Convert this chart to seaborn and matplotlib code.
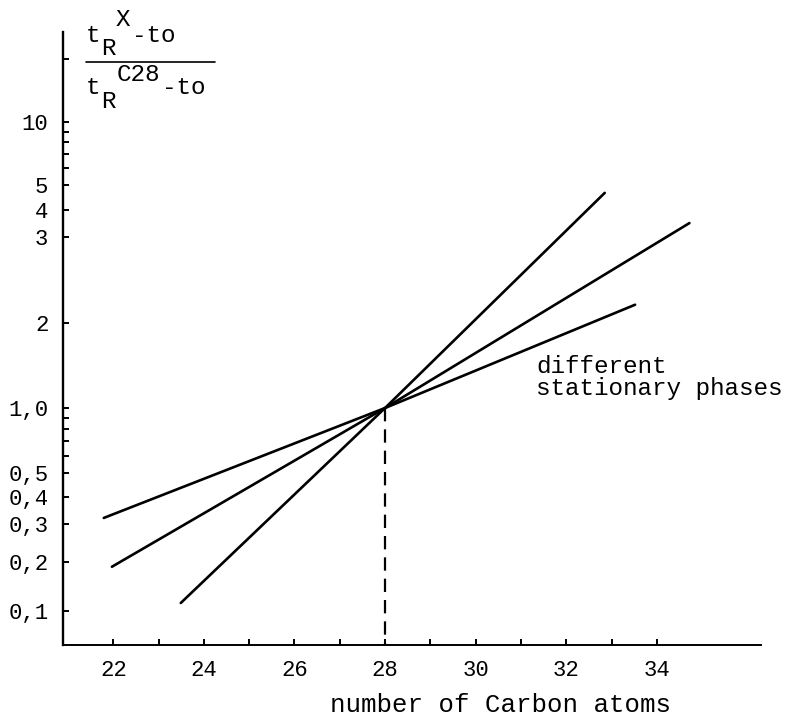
import numpy as np
import pandas as pd
import matplotlib
matplotlib.use("Agg")
import matplotlib.pyplot as plt
from matplotlib.lines import Line2D
from matplotlib.ticker import FixedLocator, FixedFormatter, NullFormatter
import seaborn as sns

# --- data: relative retention (t_R^X - t0)/(t_R^C28 - t0) vs. carbon number ---
phases = ["phase A", "phase B", "phase C"]
carbon_start = [23.49, 21.97, 21.79]
carbon_ref = [28.0, 28.0, 28.0]
carbon_end = [32.85, 34.72, 33.52]
ratio_start = [0.112, 0.187, 0.32]
ratio_ref = [1.0, 1.0, 1.0]
ratio_end = [4.66, 3.48, 2.18]

x_ticks = [22, 24, 26, 28, 30, 32, 34]
x_minor = [23, 25, 27, 29, 31, 33]
y_ticks = [0.1, 0.2, 0.3, 0.4, 0.5, 1.0, 2, 3, 4, 5, 10]
y_labels = ["0,1", "0,2", "0,3", "0,4", "0,5", "1,0", "2", "3", "4", "5", "10"]
y_minor = [0.6, 0.7, 0.8, 0.9, 6, 7, 8, 9, 20]

# hand-ruled ordinate: height of each graduation on the drawn axis (pixels from top)
gauge_rows = [611, 562, 524, 497, 473, 408, 323, 237, 210, 185, 122]

W, H = 799, 716
lg = np.log10(np.array(y_ticks, float))
hg = -np.array(gauge_rows, float)


def ruled_forward(v):
    v = np.asarray(v, float)
    with np.errstate(divide="ignore", invalid="ignore"):
        l = np.log10(np.where(v > 0, v, np.nan))
    out = np.interp(l, lg, hg)
    lo_slope = (hg[1] - hg[0]) / (lg[1] - lg[0])
    hi_slope = (hg[-1] - hg[-2]) / (lg[-1] - lg[-2])
    out = np.where(l < lg[0], hg[0] + (l - lg[0]) * lo_slope, out)
    out = np.where(l > lg[-1], hg[-1] + (l - lg[-1]) * hi_slope, out)
    return out


def ruled_inverse(p):
    p = np.asarray(p, float)
    l = np.interp(p, hg, lg)
    lo_slope = (lg[1] - lg[0]) / (hg[1] - hg[0])
    hi_slope = (lg[-1] - lg[-2]) / (hg[-1] - hg[-2])
    l = np.where(p < hg[0], lg[0] + (p - hg[0]) * lo_slope, l)
    l = np.where(p > hg[-1], lg[-1] + (p - hg[-1]) * hi_slope, l)
    return 10.0 ** l


rows = []
for i, ph in enumerate(phases):
    for c, r in ((carbon_start[i], ratio_start[i]),
                 (carbon_ref[i], ratio_ref[i]),
                 (carbon_end[i], ratio_end[i])):
        rows.append({"phase": ph, "carbon": c, "ratio": r})
df = pd.DataFrame(rows)

sns.set_theme(style="white")
plt.rcParams["font.family"] = ["Liberation Mono", "DejaVu Sans Mono"]

fig = plt.figure(figsize=(W / 100, H / 100), dpi=100)
ax_left, ax_right, ax_bottom, ax_top = 63, 761, 645, 32
ax = fig.add_axes([ax_left / W, 1 - ax_bottom / H,
                   (ax_right - ax_left) / W, (ax_bottom - ax_top) / H])
ax.set_yscale("function", functions=(ruled_forward, ruled_inverse))

sns.lineplot(data=df, x="carbon", y="ratio", hue="phase", units="phase",
             estimator=None, sort=True, palette=["black"] * 3,
             linewidth=1.9, legend=False, ax=ax)

ax.set_xlim(20.89, 36.30)
ax.set_ylim(float(ruled_inverse(-ax_bottom)), float(ruled_inverse(-ax_top)))

# reference carbon number C28
ax.plot([28, 28], [1.0, ax.get_ylim()[0]], color="black", lw=1.6,
        linestyle=(0, (6.0, 3.6)))

for side in ("top", "right"):
    ax.spines[side].set_visible(False)
ax.spines["left"].set_linewidth(1.7)
ax.spines["bottom"].set_linewidth(1.4)
for side in ("left", "bottom"):
    ax.spines[side].set_color("black")

ax.xaxis.set_major_locator(FixedLocator(x_ticks))
ax.xaxis.set_minor_locator(FixedLocator(x_minor))
ax.yaxis.set_major_locator(FixedLocator(y_ticks))
ax.yaxis.set_major_formatter(FixedFormatter(y_labels))
ax.yaxis.set_minor_locator(FixedLocator(y_minor))
ax.yaxis.set_minor_formatter(NullFormatter())
ax.tick_params(which="both", direction="in", length=4, width=1.4,
               bottom=True, left=True, top=False, right=False,
               color="black", labelsize=16, labelcolor="black")
ax.tick_params(axis="both", which="major", pad=10.5)
ax.set_xlabel("")
ax.set_ylabel("")


def fxy(px, row):
    return px / W, 1 - row / H


txt = dict(color="black", fontsize=17.5, ha="left", va="baseline")
# ordinate caption: (t_R^X - to) / (t_R^C28 - to)
fig.text(*fxy(86, 42), "t", **txt)
fig.text(*fxy(101, 55), "R", **txt)
fig.text(*fxy(116, 26), "X", **txt)
fig.text(*fxy(132, 42), "-to", **txt)
fig.add_artist(Line2D([86 / W, 215 / W], [1 - 62 / H] * 2, color="black", lw=1.2))
fig.text(*fxy(86, 94), "t", **txt)
fig.text(*fxy(101, 108), "R", **txt)
fig.text(*fxy(117, 81), "C28", **txt)
fig.text(*fxy(162, 94), "-to", **txt)

fig.text(*fxy(536, 373), "different", **txt)
fig.text(*fxy(536, 395), "stationary phases", **txt)

fig.text(*fxy(500, 712), "number of Carbon atoms", color="black", fontsize=18.5,
         ha="center", va="baseline")

fig.savefig("out.png", dpi=100, facecolor="white")
